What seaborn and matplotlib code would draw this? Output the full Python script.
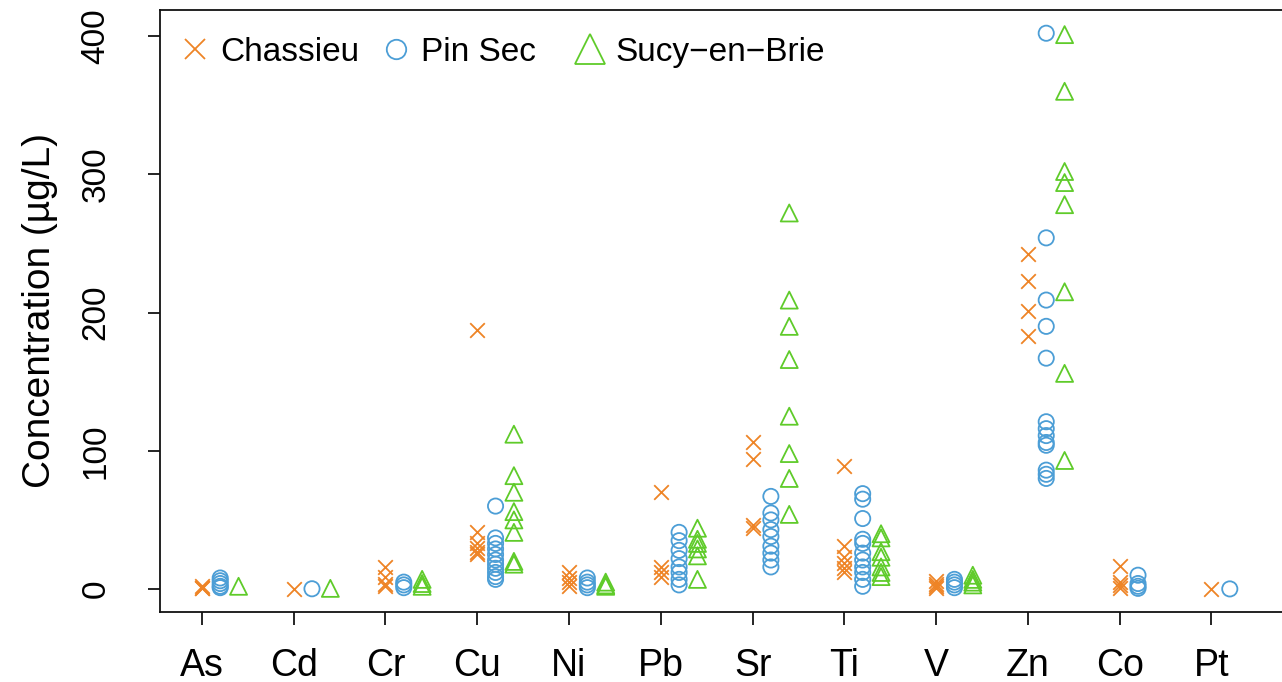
import matplotlib
matplotlib.use("Agg")
import matplotlib.pyplot as plt
import seaborn as sns
import pandas as pd
from matplotlib.lines import Line2D

categories = ["As", "Cd", "Cr", "Cu", "Ni", "Pb", "Sr", "Ti", "V", "Zn", "Co", "Pt"]
series_names = ["Chassieu", "Pin Sec", "Sucy-en-Brie"]
legend_labels = ["Chassieu", "Pin Sec", "Sucy\u2212en\u2212Brie"]

chassieu = [
    [2, 1, 0.5],
    [0.3],
    [16, 9, 4, 2],
    [187, 41, 33, 30, 27, 25],
    [12, 8, 5, 2],
    [70, 16, 12, 9],
    [106, 94, 46, 44],
    [89, 31, 23, 19, 15, 12],
    [6, 4, 2, 1],
    [242, 223, 201, 183],
    [17, 5, 3, 1],
    [0.2],
]
pin_sec = [
    [8, 6, 4, 2, 1],
    [0.2],
    [5, 3, 1],
    [60, 37, 33, 29, 25, 21, 18, 15, 12, 9, 7],
    [8, 5, 3, 1],
    [41, 35, 28, 22, 16, 12, 7, 3],
    [67, 55, 50, 43, 38, 31, 26, 21, 16],
    [69, 65, 51, 36, 33, 26, 21, 16, 12, 7, 2],
    [7, 5, 3, 1],
    [402, 254, 209, 190, 167, 121, 116, 111, 106, 104, 86, 83, 80],
    [10, 4, 2, 0.5],
    [0.1],
]
sucy = [
    [2],
    [0.5],
    [7, 4, 2],
    [112, 82, 70, 56, 50, 41, 20, 18],
    [5, 3, 2],
    [44, 36, 33, 29, 24, 7],
    [272, 209, 190, 166, 125, 98, 80, 54],
    [40, 37, 27, 23, 16, 12, 9],
    [10, 7, 5, 3],
    [401, 360, 302, 294, 278, 215, 156, 93],
    [],
    [],
]

colors = {"Chassieu": "#EE8426", "Pin Sec": "#4C9ED6", "Sucy-en-Brie": "#5FCB2A"}
markers = {"Chassieu": "x", "Pin Sec": "o", "Sucy-en-Brie": "^"}
sizes = {"Chassieu": 110, "Pin Sec": 120, "Sucy-en-Brie": 150}
offsets = {"Chassieu": 0.0, "Pin Sec": 0.2, "Sucy-en-Brie": 0.4}

rows = []
for name, vals in zip(series_names, [chassieu, pin_sec, sucy]):
    for i, cat_vals in enumerate(vals):
        for v in cat_vals:
            rows.append({"series": name, "cat": i + 1, "value": v,
                         "pos": i + 1 + offsets[name]})
df = pd.DataFrame(rows)

sns.set_style("white")
plt.rcParams["font.family"] = ["Liberation Sans", "DejaVu Sans"]
plt.rcParams["text.color"] = "black"
plt.rcParams["axes.labelcolor"] = "black"

fig = plt.figure(figsize=(12.82, 6.82), dpi=100)
ax = fig.add_axes([160 / 1282, 1 - 612 / 682, 1130 / 1282, 602 / 682])

for name in series_names:
    sub = df[df["series"] == name]
    c = colors[name]
    if markers[name] == "x":
        sns.scatterplot(data=sub, x="pos", y="value", marker="x", color=c,
                        s=sizes[name], linewidth=1.3, ax=ax, legend=False)
    else:
        sns.scatterplot(data=sub, x="pos", y="value", marker=markers[name],
                        color=c, facecolor="none", edgecolor=c,
                        s=sizes[name], linewidth=1.3, ax=ax, legend=False)

ax.set_xlim(0.544, 12.856)
ax.set_ylim(-16.6, 418.8)
ax.set_xticks(range(1, len(categories) + 1))
ax.set_xticklabels(categories)
ax.set_yticks([0, 100, 200, 300, 400])
ax.set_yticklabels(["0", "100", "200", "300", "400"], rotation=90, va="center")
ax.set_xlabel("")
ax.set_ylabel("Concentration (µg/L)", fontsize=28, labelpad=16, color="black")

ax.tick_params(axis="x", length=9, width=1.2, pad=17, labelsize=27, colors="black",
               direction="out", bottom=True)
ax.tick_params(axis="y", length=9, width=1.2, pad=26, labelsize=24, colors="black",
               direction="out", left=True)
for sp in ax.spines.values():
    sp.set_visible(True)
    sp.set_color("#111111")
    sp.set_linewidth(1.3)

handles = [
    Line2D([], [], linestyle="none", marker="x", color=colors["Chassieu"],
           markersize=15, markeredgewidth=1.3),
    Line2D([], [], linestyle="none", marker="o", color=colors["Pin Sec"],
           markerfacecolor="none", markersize=14, markeredgewidth=1.3),
    Line2D([], [], linestyle="none", marker="^", color=colors["Sucy-en-Brie"],
           markerfacecolor="none", markersize=21, markeredgewidth=1.3),
]
leg_kw = dict(frameon=False, fontsize=24, handletextpad=0.2, columnspacing=0.55,
              borderaxespad=0.1, handlelength=1.1, loc="upper left")
ytop = 1 - 0.3 * 33.3 / 602
leg1 = ax.legend(handles[:2], legend_labels[:2], ncol=2,
                 bbox_to_anchor=(0.0, ytop), **leg_kw)
for t in leg1.get_texts():
    t.set_color("black")
ax.add_artist(leg1)
leg2 = ax.legend(handles[2:], legend_labels[2:], ncol=1,
                 bbox_to_anchor=((555 - 160) / 1130, ytop), **leg_kw)
for t in leg2.get_texts():
    t.set_color("black")

fig.savefig("out.png", dpi=100)
